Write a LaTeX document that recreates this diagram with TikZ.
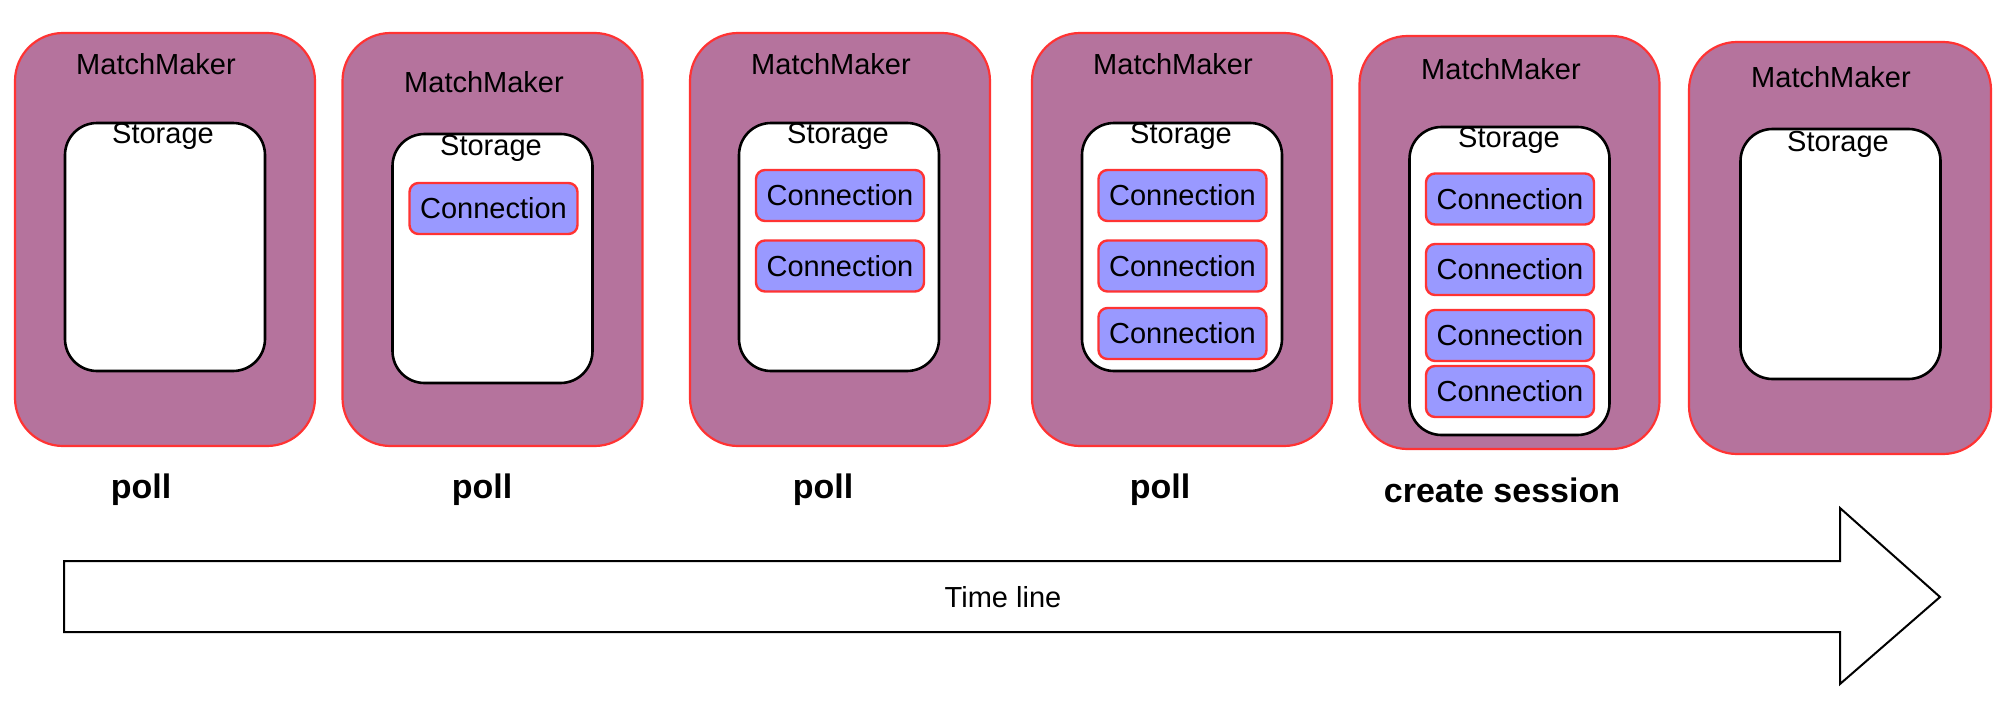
\documentclass[tikz,border=0pt]{standalone}
\usepackage{fontspec}
\setmainfont{Liberation Sans}
\definecolor{mmfill}{HTML}{B5739D}
\definecolor{mmline}{HTML}{FF3333}
\definecolor{connfill}{HTML}{9999FF}
\begin{document}
\begin{tikzpicture}[x=1pt,y=-1pt,
  mmbox/.style={draw=mmline, fill=mmfill, line width=2.2pt, rounded corners=48pt, minimum width=300pt, minimum height=413pt, inner sep=0pt},
  storebox/.style={draw=black, fill=white, line width=2.6pt, rounded corners=32pt, minimum width=200pt, inner sep=0pt},
  connbox/.style={draw=mmline, fill=connfill, line width=2.4pt, rounded corners=9pt, minimum width=168pt, minimum height=51pt, inner sep=0pt, font=\fontsize{29}{34}\selectfont},
  lbl/.style={font=\fontsize{29}{34}\selectfont, inner sep=0pt},
  step lbl/.style={font=\fontsize{34}{40}\selectfont\bfseries, inner sep=0pt}]
\useasboundingbox (0,0) rectangle (2006,704);

% MatchMaker boxes
\node[mmbox] (mm1) at (165,239.5) {};
\node[mmbox] (mm2) at (492.5,239.5) {};
\node[mmbox] (mm3) at (840,239.5) {};
\node[mmbox] (mm4) at (1182,239.5) {};
\node[mmbox] (mm5) at (1509.5,242.5) {};
\node[mmbox, minimum width=302pt, minimum height=412pt] (mm6) at (1840,248) {};

\node[lbl] (t1) at (156,64) {MatchMaker};
\node[lbl] (t2) at (484,82) {MatchMaker};
\node[lbl] (t3) at (831,64) {MatchMaker};
\node[lbl] (t4) at (1173,64) {MatchMaker};
\node[lbl] (t5) at (1501,69) {MatchMaker};
\node[lbl] (t6) at (1831,77) {MatchMaker};

% Storage boxes
\node[storebox, minimum height=248pt] (s1) at (165,247) {};
\node[storebox, minimum height=249pt] (s2) at (492.5,258.5) {};
\node[storebox, minimum height=248pt] (s3) at (839,247) {};
\node[storebox, minimum height=248pt] (s4) at (1182,247) {};
\node[storebox, minimum height=308pt] (s5) at (1509.5,281) {};
\node[storebox, minimum height=250pt] (s6) at (1840.5,254) {};

\node[lbl] (st1) at (163,136) {Storage};
\node[lbl] (st2) at (491,148) {Storage};
\node[lbl] (st3) at (838,136) {Storage};
\node[lbl] (st4) at (1181,136) {Storage};
\node[lbl] (st5) at (1509,140) {Storage};
\node[lbl] (st6) at (1838,144) {Storage};

% Connections
\node[connbox] (c21) at (493.5,208.5) {Connection};
\node[connbox] (c31) at (840,195.5) {Connection};
\node[connbox] (c32) at (840,266) {Connection};
\node[connbox] (c41) at (1182.5,195.5) {Connection};
\node[connbox] (c42) at (1182.5,266) {Connection};
\node[connbox] (c43) at (1182.5,333.5) {Connection};
\node[connbox] (c51) at (1510,199) {Connection};
\node[connbox] (c52) at (1510,269.5) {Connection};
\node[connbox] (c53) at (1510,335.5) {Connection};
\node[connbox] (c54) at (1510,391.5) {Connection};

% step labels
\node[step lbl] (p1) at (141,490) {poll};
\node[step lbl] (p2) at (482,490) {poll};
\node[step lbl] (p3) at (823,490) {poll};
\node[step lbl] (p4) at (1160,490) {poll};
\node[step lbl] (p5) at (1502,490) {create session};

% time line arrow
\draw[line width=2pt, fill=white, line join=miter]
  (64,561) -- (1840,561) -- (1840,508) -- (1940,597) -- (1840,684) -- (1840,632) -- (64,632) -- cycle;
\node[lbl] (tl) at (1003,597) {Time line};
\end{tikzpicture}
\end{document}
